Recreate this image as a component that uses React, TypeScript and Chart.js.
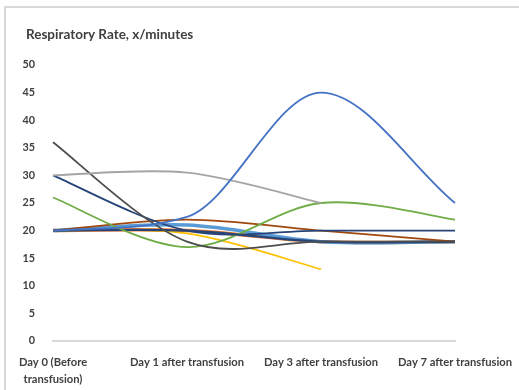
import React, { useEffect, useRef } from "react";
import { Chart, registerables } from "chart.js";

Chart.register(...registerables);

const days = [["Day 0 (Before", "transfusion)"], "Day 1 after transfusion", "Day 3 after transfusion", "Day 7 after transfusion"];

const patientA = [20, 22.5, 45, 25];
const patientB = [30, 30.5, 25, null];
const patientC = [36, 18, 18, 18];
const patientD = [30, 20, 20, 20];
const patientE = [26, 17, 25, 22];
const patientF = [20, 22, 20, 18];
const patientG = [20, 19.5, 13, null];
const patientH = [20, 20, 18, 18];
const patientI = [20, 21, 18, 18];
const patientJ = [20, 20, 18, 18];

const FONT = "Lato, 'Liberation Sans', sans-serif";

// Spreadsheet-style smoothing: tangent at each point is (next - prev) / 6.
const smoothPlugin = {
  id: "smoothLines",
  beforeDatasetsDraw(chart: any) {
    chart.getSortedVisibleDatasetMetas().forEach((meta: any) => {
      const line = meta.dataset;
      const pts = meta.data;
      if (!line || !pts || line.options.cubicInterpolationMode === "monotone") return;
      line.updateControlPoints(chart.chartArea, "x");
      for (let i = 0; i < pts.length; i++) {
        const p = pts[i];
        if (p.skip) continue;
        const prev = i > 0 && !pts[i - 1].skip ? pts[i - 1] : p;
        const next = i < pts.length - 1 && !pts[i + 1].skip ? pts[i + 1] : p;
        const dx = (next.x - prev.x) / 6;
        const dy = (next.y - prev.y) / 6;
        p.cp1x = p.x - dx;
        p.cp1y = p.y - dy;
        p.cp2x = p.x + dx;
        p.cp2y = p.y + dy;
      }
      line._pointsUpdated = true;
      line._path = undefined;
    });
  },
};

const framePlugin = {
  id: "frame",
  beforeDraw(chart: any) {
    const ctx = chart.ctx;
    ctx.save();
    ctx.fillStyle = "#ffffff";
    ctx.fillRect(0, 0, chart.width, chart.height);
    ctx.strokeStyle = "#d9d9d9";
    ctx.lineWidth = 2;
    ctx.strokeRect(5, 7, chart.width + 20, chart.height + 20);
    ctx.fillStyle = "#404040";
    ctx.font = `bold 13.5px ${FONT}`;
    ctx.textBaseline = "middle";
    ctx.fillText("Respiratory Rate, x/minutes", 26, 35);
    ctx.restore();
  },
};

export default function App() {
  const ref = useRef<HTMLCanvasElement>(null);

  useEffect(() => {
    const mk = (data: (number | null)[], color: string, width = 1.8, monotone = false) => ({
      data,
      borderColor: color,
      backgroundColor: color,
      borderWidth: width,
      pointRadius: 0,
      tension: 0.4,
      cubicInterpolationMode: monotone ? "monotone" : "default",
      fill: false,
      spanGaps: false,
    });
    const chart = new Chart(ref.current!, {
      type: "line",
      data: {
        labels: days,
        datasets: [
          mk(patientA, "#4472C4", 1.8, true),
          mk(patientB, "#A5A5A5"),
          mk(patientC, "#4d4d4d"),
          mk(patientD, "#264478"),
          mk(patientE, "#70AD47"),
          mk(patientF, "#9E480E"),
          mk(patientJ, "#264478", 2.2),
          mk(patientG, "#FFC000"),
          mk(patientI, "#5B9BD5", 3.5),
          mk(patientH, "#ED7D31", 3.5),
        ] as any,
      },
      options: {
        responsive: false,
        animation: false,
        devicePixelRatio: 1,
        layout: { padding: { top: 65, right: 64, left: 0, bottom: 0 } },
        plugins: { legend: { display: false }, tooltip: { enabled: false }, title: { display: false } },
        scales: {
          x: {
            offset: false,
            grid: { display: false },
            border: { display: true, color: "#d9d9d9", width: 2 },
            ticks: {
              autoSkip: false,
              maxRotation: 0,
              minRotation: 0,
              padding: 4,
              color: "#404040",
              font: { family: FONT, size: 11.2, weight: "bold", lineHeight: 1.6 },
            },
            afterFit(scale: any) {
              scale.height = 49;
            },
          },
          y: {
            min: 0,
            max: 50,
            grid: { display: false },
            border: { display: false },
            ticks: {
              stepSize: 5,
              padding: 10,
              color: "#404040",
              font: { family: FONT, size: 10.8, weight: "bold" },
            },
            afterFit(scale: any) {
              scale.width = 53;
            },
          },
        },
      },
      plugins: [framePlugin, smoothPlugin],
    });
    return () => chart.destroy();
  }, []);

  return (
    <div style={{ position: "absolute", left: 0, top: 0, width: 519, height: 390 }}>
      <canvas ref={ref} width={519} height={390} />
    </div>
  );
}
